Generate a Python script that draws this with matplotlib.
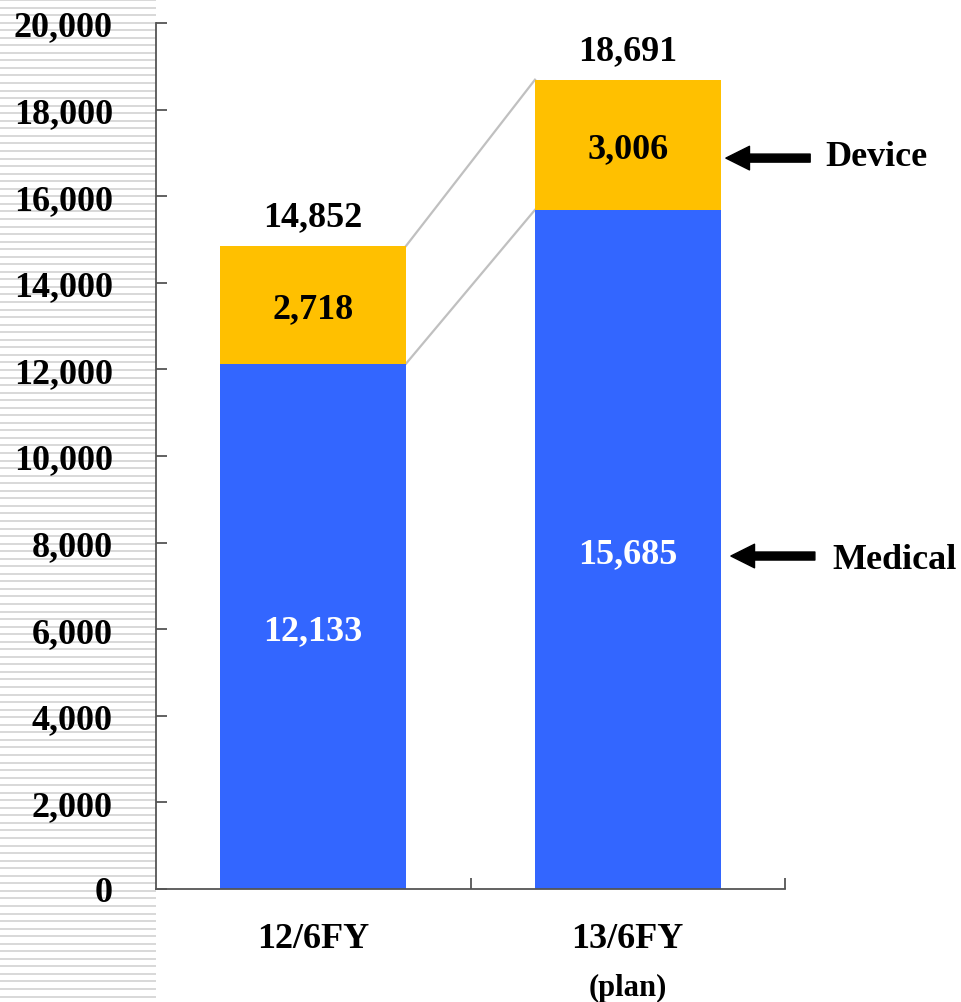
import matplotlib
matplotlib.use("Agg")
import matplotlib.pyplot as plt
from matplotlib.patches import Rectangle

categories = ["12/6FY", "13/6FY"]
medical = [12133, 15685]
device = [2718, 3006]
totals = [14852, 18691]
series_names = ["Device", "Medical"]
yticks = list(range(0, 20001, 2000))

BLUE = "#3366FF"
GOLD = "#FFC000"
FONT = "Liberation Serif"

W, H = 961, 1003
fig = plt.figure(figsize=(W / 100, H / 100), dpi=100)
ax = fig.add_axes([156 / W, (H - 890) / H, (785 - 156) / W, (890 - 24) / H])

# striped panel on the left
y = 0.0
while y < H:
    yi = round(y)
    fig.add_artist(Rectangle((0, 1 - (yi + 2) / H), 156 / W, 2 / H,
                             transform=fig.transFigure, color="#d9d9d9", lw=0, zorder=0,
                             antialiased=False))
    y += 7.55

x = list(range(len(categories)))
bw = 0.59
ax.bar(x, medical, width=bw, color=BLUE, zorder=2)
ax.bar(x, device, width=bw, bottom=medical, color=GOLD, zorder=2)

# connector lines
ax.plot([x[0] + bw / 2, x[1] - bw / 2], [totals[0], totals[1]], color="#c0c0c0", lw=1.6, zorder=1)
ax.plot([x[0] + bw / 2, x[1] - bw / 2], [medical[0], medical[1]], color="#c0c0c0", lw=1.6, zorder=1)

for i in x:
    ax.text(i, medical[i] / 2, f"{medical[i]:,}", ha="center", va="center_baseline",
            color="white", fontsize=26, fontweight="bold", family=FONT, zorder=3)
    ax.text(i, medical[i] + device[i] / 2, f"{device[i]:,}", ha="center", va="center_baseline",
            color="black", fontsize=26, fontweight="bold", family=FONT, zorder=3)
    ax.annotate(f"{totals[i]:,}", (i, totals[i]), xytext=(0, 15), textcoords="offset points",
                ha="center", va="baseline", fontsize=26, fontweight="bold", family=FONT)

# arrows with series names
arrow_kw = dict(arrowstyle="simple,head_width=0.85,head_length=0.85,tail_width=0.29",
                mutation_scale=20, color="black", shrinkA=0, shrinkB=0)
ax.annotate("", xy=(1.312, 16880), xytext=(1.58, 16880), arrowprops=arrow_kw, annotation_clip=False)
ax.annotate("", xy=(1.328, 7690), xytext=(1.595, 7690), arrowprops=arrow_kw, annotation_clip=False)
ax.text(1.627, 17020, series_names[0], ha="left", va="center_baseline", fontsize=26,
        fontweight="bold", family=FONT, clip_on=False)
ax.text(1.652, 7700, series_names[1], ha="left", va="center_baseline", fontsize=26,
        fontweight="bold", family=FONT, clip_on=False)

ax.set_xlim(-0.5, 1.5)
ax.set_ylim(0, 20000)
ax.set_yticks(yticks)
ax.set_yticklabels([f"{v:,}" for v in yticks], fontsize=26, fontweight="bold", family=FONT)
ax.tick_params(axis="y", direction="in", length=8, width=1.3, color="#555555", pad=31)
ax.set_xticks(x)
ax.set_xticklabels(categories, fontsize=26, fontweight="bold", family=FONT)
ax.set_xticks([0.5, 1.5], minor=True)
ax.tick_params(axis="x", which="major", length=0, pad=24)
ax.tick_params(axis="x", which="minor", direction="in", length=8, width=1.3, color="#555555")
ax.text(1, -2270, "(plan)", ha="center", va="center", fontsize=22, fontweight="bold",
        family=FONT, clip_on=False)

for s in ["top", "right"]:
    ax.spines[s].set_visible(False)
for s in ["left", "bottom"]:
    ax.spines[s].set_color("#555555")
    ax.spines[s].set_linewidth(1.3)
ax.set_facecolor("none")

fig.savefig("out.png", dpi=100)
